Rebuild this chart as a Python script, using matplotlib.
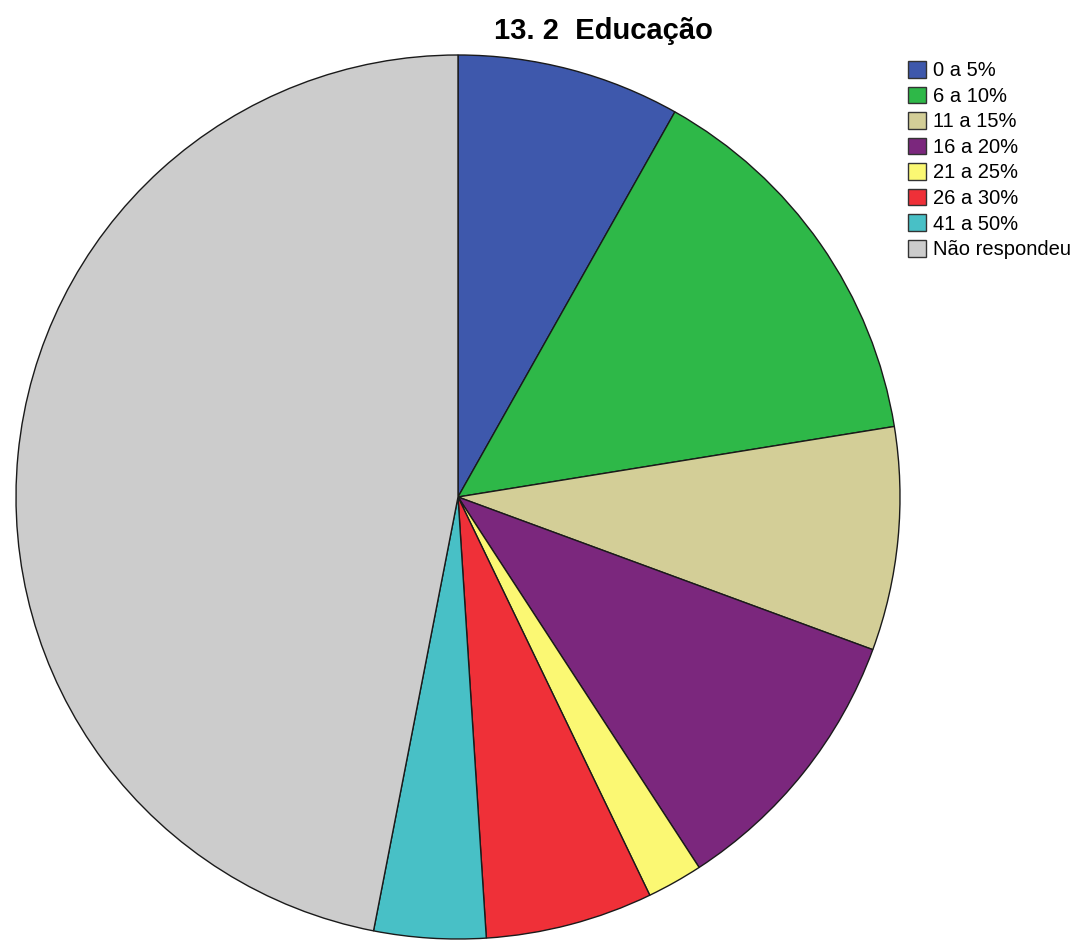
import matplotlib.pyplot as plt

plt.rcParams['font.family'] = ['Liberation Sans', 'DejaVu Sans']

# data
labels = ['0 a 5%', '6 a 10%', '11 a 15%', '16 a 20%', '21 a 25%',
          '26 a 30%', '41 a 50%', 'Não respondeu']
counts = [4, 7, 4, 5, 1, 3, 2, 23]
colors = ['#3E58AC', '#2EB848', '#D3CE97', '#7B277D', '#FBF873',
          '#EF3038', '#48C0C6', '#CCCCCC']

fig = plt.figure(figsize=(10.81, 9.4), dpi=100)

# pie area (center ~ (458, 497) px, radius ~ 442 px)
ax = fig.add_axes([16 / 1081, 1 / 940, 884 / 1081, 884 / 940])
wedges, _ = ax.pie(counts, colors=colors, startangle=90, counterclock=False,
                   radius=1, wedgeprops=dict(edgecolor='#1a1a1a', linewidth=1))
ax.set_xlim(-1, 1)
ax.set_ylim(-1, 1)
ax.set_aspect('equal')

fig.text(603 / 1081, 1 - 31 / 940, '13. 2  Educação', ha='center', va='center',
         fontsize=21, fontweight='bold')

leg = fig.legend(wedges, labels, loc='upper left',
                 bbox_to_anchor=(908 / 1081, 1 - 61 / 940),
                 frameon=False, fontsize=14.5, handlelength=0.9, handleheight=0.9,
                 handletextpad=0.35, labelspacing=0.31, borderpad=0, borderaxespad=0)
for h in leg.legend_handles:
    h.set_edgecolor('#333333')
    h.set_linewidth(1)

fig.savefig('out.png', dpi=100)
